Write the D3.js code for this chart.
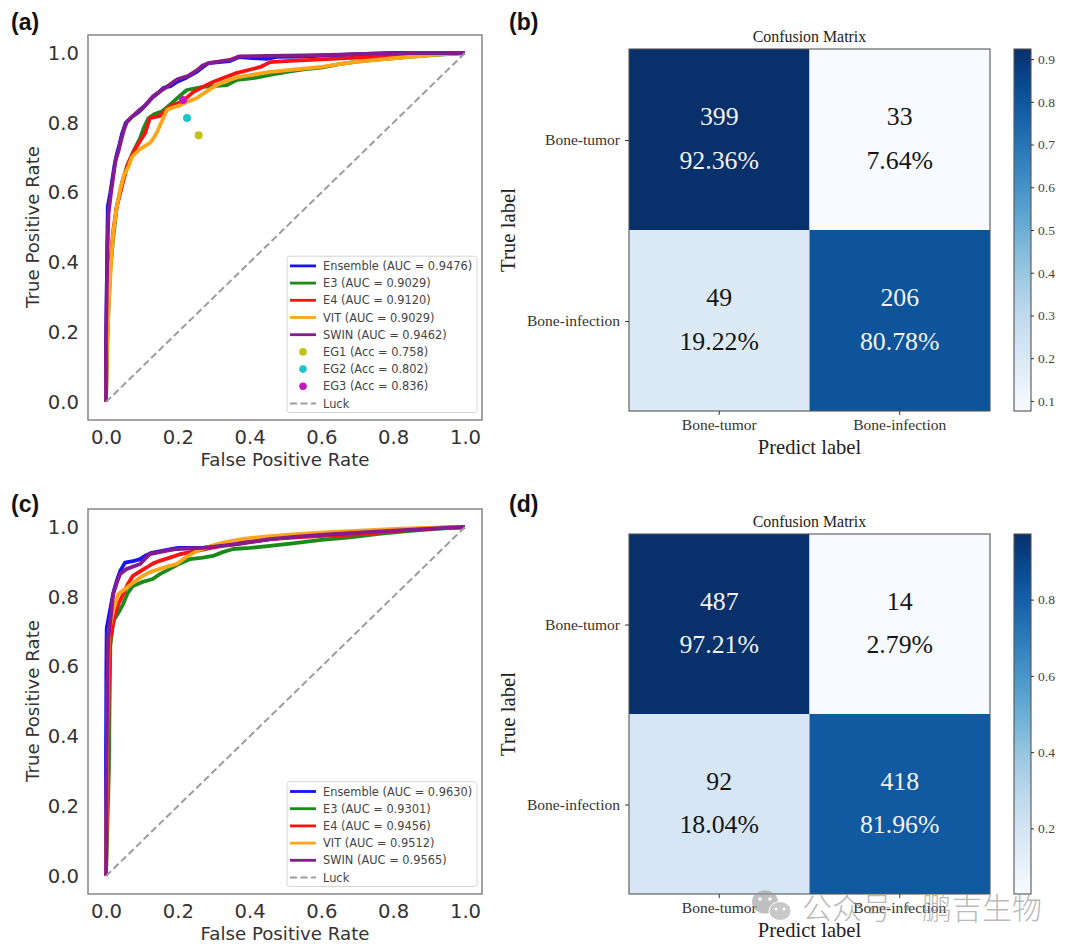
<!DOCTYPE html>
<html>
<head>
<meta charset="utf-8">
<script src="https://cdn.jsdelivr.net/npm/d3@7/dist/d3.min.js"></script>
<style>
html,body{margin:0;padding:0;background:#fff;}
svg{display:block;}
</style>
</head>
<body>
<svg id="fig" width="1080" height="951"></svg>
<script>
// ROC curves, upper panel: [false positive rate, true positive rate]
const rocA_Ensemble = [[0,0],[0,.15],[.002,.3],[.003,.42],[.005,.56],[.012,.6],[.018,.64],[.024,.68],[.03,.71],[.038,.74],[.045,.77],[.055,.8],[.07,.815],[.09,.83],[.105,.845],[.127,.87],[.145,.885],[.16,.9],[.18,.905],[.197,.917],[.225,.93],[.253,.946],[.27,.96],[.285,.971],[.345,.977],[.37,.988],[.448,.983],[.476,.989],[.54,.99],[.62,.993],[.7,.997],[.8,1],[1,1]];
const rocA_E3 = [[0,0],[.002,.12],[.006,.25],[.012,.38],[.02,.47],[.03,.56],[.045,.63],[.058,.674],[.075,.715],[.095,.756],[.105,.785],[.118,.813],[.135,.825],[.155,.832],[.17,.845],[.183,.856],[.2,.872],[.225,.894],[.27,.903],[.3,.905],[.337,.908],[.365,.923],[.41,.928],[.457,.937],[.5,.945],[.55,.953],[.6,.958],[.65,.968],[.7,.975],[.75,.98],[.8,.985],[.85,.99],[.92,.995],[1,1]];
const rocA_E4 = [[0,0],[.002,.14],[.006,.27],[.012,.4],[.02,.49],[.03,.56],[.045,.62],[.06,.68],[.075,.713],[.09,.74],[.109,.77],[.122,.813],[.15,.82],[.165,.835],[.178,.846],[.21,.86],[.225,.872],[.243,.888],[.27,.903],[.298,.917],[.33,.93],[.365,.943],[.4,.952],[.43,.96],[.457,.974],[.5,.977],[.6,.982],[.7,.987],[.8,.99],[.9,.996],[1,1]];
const rocA_VIT = [[0,0],[.003,.16],[.008,.28],[.014,.4],[.02,.484],[.03,.56],[.039,.607],[.05,.65],[.062,.673],[.072,.702],[.095,.725],[.122,.742],[.135,.76],[.145,.78],[.158,.81],[.17,.837],[.19,.845],[.206,.85],[.23,.862],[.253,.871],[.28,.89],[.309,.908],[.335,.92],[.365,.93],[.41,.938],[.457,.946],[.5,.95],[.55,.955],[.6,.96],[.65,.968],[.7,.975],[.75,.98],[.8,.985],[.86,.99],[.93,.996],[1,1]];
const rocA_SWIN = [[0,0],[0,.18],[.002,.32],[.004,.44],[.007,.54],[.014,.6],[.02,.645],[.026,.69],[.035,.72],[.042,.75],[.05,.78],[.058,.802],[.075,.82],[.095,.838],[.11,.85],[.13,.875],[.15,.89],[.165,.9],[.185,.915],[.2,.925],[.23,.935],[.253,.95],[.27,.965],[.29,.972],[.345,.98],[.37,.99],[.45,.992],[.55,.993],[.65,.995],[.75,.998],[.85,1],[1,1]];

// ROC curves, lower panel
const rocC_Ensemble = [[0,0],[0,.35],[.001,.6],[.002,.71],[.011,.76],[.02,.81],[.03,.846],[.04,.875],[.053,.898],[.075,.902],[.095,.908],[.11,.918],[.127,.926],[.16,.932],[.2,.94],[.27,.94],[.33,.95],[.4,.958],[.5,.97],[.6,.978],[.7,.985],[.8,.992],[.9,.997],[1,1]];
const rocC_E3 = [[0,0],[.008,.3],[.01,.5],[.012,.66],[.02,.73],[.035,.755],[.048,.78],[.06,.81],[.075,.831],[.1,.842],[.13,.851],[.15,.865],[.178,.88],[.205,.895],[.234,.908],[.27,.912],[.298,.917],[.325,.928],[.354,.937],[.4,.94],[.457,.946],[.52,.953],[.6,.963],[.68,.97],[.76,.98],[.84,.988],[.92,.995],[1,1]];
const rocC_E4 = [[0,0],[.005,.35],[.008,.55],[.012,.68],[.025,.75],[.035,.78],[.048,.808],[.06,.835],[.075,.86],[.095,.873],[.113,.884],[.13,.895],[.15,.903],[.18,.913],[.206,.922],[.245,.93],[.28,.937],[.32,.945],[.364,.951],[.41,.958],[.457,.965],[.53,.97],[.62,.975],[.72,.98],[.82,.99],[.92,.996],[1,1]];
const rocC_VIT = [[0,0],[.003,.35],[.005,.55],[.008,.7],[.02,.76],[.034,.808],[.058,.826],[.075,.84],[.095,.855],[.12,.87],[.15,.88],[.175,.888],[.197,.894],[.225,.915],[.253,.931],[.29,.945],[.326,.955],[.382,.966],[.457,.974],[.54,.98],[.62,.985],[.72,.99],[.82,.995],[.92,.998],[1,1]];
const rocC_SWIN = [[0,0],[.002,.35],[.004,.55],[.006,.68],[.011,.72],[.016,.77],[.02,.808],[.03,.84],[.039,.865],[.058,.88],[.095,.894],[.11,.91],[.122,.922],[.16,.93],[.197,.937],[.27,.94],[.32,.946],[.364,.951],[.41,.958],[.457,.965],[.54,.973],[.64,.98],[.74,.986],[.84,.992],[.93,.997],[1,1]];

// Single operating points shown only on the upper ROC panel
const operatingPoints = [[.258,.764],[.2256,.814],[.2145,.865]];

const curveNames = ["Ensemble","E3","E4","VIT","SWIN"];
const curveColors = ["#1414f5","#1a8a1a","#fb1212","#ffa519","#861a8e"];
const aucA = ["0.9476","0.9029","0.9120","0.9029","0.9462"];
const aucC = ["0.9630","0.9301","0.9456","0.9512","0.9565"];
const pointNames = ["EG1","EG2","EG3"];
const pointAcc = ["0.758","0.802","0.836"];
const pointColors = ["#c2c214","#1fc4c8","#c418c0"];
const rocTicks = [0,.2,.4,.6,.8,1];

// Confusion matrices
const classes = ["Bone-tumor","Bone-infection"];
const countsB = [[399,33],[49,206]];
const percentB = [[92.36,7.64],[19.22,80.78]];
const countsD = [[487,14],[92,418]];
const percentD = [[97.21,2.79],[18.04,81.96]];
const barTicksB = [.1,.2,.3,.4,.5,.6,.7,.8,.9];
const barTicksD = [.2,.4,.6,.8];

const svg = d3.select("#fig");
const SANS = "'DejaVu Sans', sans-serif";
const SERIF = "'Liberation Serif', serif";
const INK = "#333";

function panelTag(text, x, y) {
  svg.append("text").attr("x", x).attr("y", y)
    .attr("font-family", "'Liberation Sans', sans-serif").attr("font-weight", 700)
    .attr("font-size", 23).attr("fill", "#111").text(text);
}

function rocPanel(o) {
  const g = svg.append("g");
  const x = d3.scaleLinear().domain([0,1]).range([o.left + 18, o.left + 377]);
  const y = d3.scaleLinear().domain([0,1]).range([o.top + 367, o.top + 18]);
  const w = 394, h = 385;

  const fmt = d3.format(".1f");
  const ax = g.append("g").attr("transform", `translate(0,${o.top + h})`)
    .call(d3.axisBottom(x).tickValues(rocTicks).tickFormat(fmt).tickSize(0).tickPadding(10));
  const ay = g.append("g").attr("transform", `translate(${o.left},0)`)
    .call(d3.axisLeft(y).tickValues(rocTicks).tickFormat(fmt).tickSize(0).tickPadding(9));
  [ax, ay].forEach(a => {
    a.select(".domain").remove();
    a.selectAll("text").attr("font-family", SANS).attr("font-size", 19.6).attr("fill", INK);
  });

  g.append("text").attr("x", o.left + 197).attr("y", o.top + h + 46)
    .attr("text-anchor", "middle").attr("font-family", SANS).attr("font-size", 18.2)
    .attr("fill", INK).text("False Positive Rate");
  g.append("text").attr("transform", `translate(${o.left - 49},${o.top + 192}) rotate(-90)`)
    .attr("text-anchor", "middle").attr("font-family", SANS).attr("font-size", 18.2)
    .attr("fill", INK).text("True Positive Rate");

  const line = d3.line().x(d => x(d[0])).y(d => y(d[1])).curve(d3.curveLinear);
  o.curves.forEach((c, i) => {
    g.append("path").datum(c).attr("d", line).attr("fill", "none")
      .attr("stroke", curveColors[i]).attr("stroke-width", 3.8).attr("stroke-linejoin", "round");
  });

  g.append("line").attr("x1", x(0)).attr("y1", y(0)).attr("x2", x(1)).attr("y2", y(1))
    .attr("stroke", "#9c9c9c").attr("stroke-width", 2).attr("stroke-dasharray", "7,3.5");

  (o.points || []).forEach((p, i) => {
    g.append("circle").attr("cx", x(p[0])).attr("cy", y(p[1])).attr("r", 4)
      .attr("fill", pointColors[i]);
  });

  g.append("rect").attr("x", o.left).attr("y", o.top).attr("width", w).attr("height", h)
    .attr("fill", "none").attr("stroke", "#858585").attr("stroke-width", 1.5);

  // Legend
  const rows = [];
  curveNames.forEach((n, i) => rows.push({kind:"line", color:curveColors[i], text:`${n} (AUC = ${o.auc[i]})`}));
  (o.points || []).forEach((p, i) => rows.push({kind:"dot", color:pointColors[i], text:`${pointNames[i]} (Acc = ${pointAcc[i]})`}));
  rows.push({kind:"dash", color:"#9c9c9c", text:"Luck"});

  const rowH = 17.2;
  const lx = o.left + 199;
  const ly = o.top + h - 7.5 - rows.length * rowH - 1.5;
  g.append("rect").attr("x", lx).attr("y", ly).attr("width", 190).attr("height", rows.length * rowH + 1.5)
    .attr("rx", 2.5).attr("fill", "#fff").attr("stroke", "#d6d6d6").attr("stroke-width", 1);
  rows.forEach((r, i) => {
    const cy = ly + 9.7 + i * rowH;
    if (r.kind === "dot") {
      g.append("circle").attr("cx", lx + 16).attr("cy", cy).attr("r", 3.8).attr("fill", r.color);
    } else {
      g.append("line").attr("x1", lx + 3).attr("x2", lx + 29).attr("y1", cy).attr("y2", cy)
        .attr("stroke", r.color).attr("stroke-width", r.kind === "dash" ? 1.8 : 2.8)
        .attr("stroke-dasharray", r.kind === "dash" ? "7,3.5" : null);
    }
    g.append("text").attr("x", lx + 36).attr("y", cy + 4).attr("font-family", SANS)
      .attr("font-size", 11.4).attr("fill", "#444").text(r.text);
  });
}

function matrixPanel(o) {
  const g = svg.append("g");
  const flat = o.percent.flat().map(v => v / 100);
  const lo = d3.min(flat), hi = d3.max(flat);
  const colour = d3.scaleSequential(d3.interpolateBlues).domain([lo, hi]);

  const x = d3.scaleBand().domain(classes).range([629, 990]);
  const y = d3.scaleBand().domain(classes).range([o.top, o.top + o.size]);

  classes.forEach((rowName, r) => classes.forEach((colName, c) => {
    const rate = o.percent[r][c] / 100;
    const cx = x(colName) + x.bandwidth() / 2;
    const cy = y(rowName) + y.bandwidth() / 2;
    g.append("rect").attr("x", x(colName)).attr("y", y(rowName))
      .attr("width", x.bandwidth()).attr("height", y.bandwidth()).attr("fill", colour(rate));
    const ink = rate > (lo + hi) / 2 ? "#f2f2f2" : "#151515";
    g.append("text").attr("x", cx).attr("y", cy - 14.5).attr("text-anchor", "middle")
      .attr("font-family", SERIF).attr("font-size", 25.8).attr("fill", ink).text(o.counts[r][c]);
    g.append("text").attr("x", cx).attr("y", cy + 29).attr("text-anchor", "middle")
      .attr("font-family", SERIF).attr("font-size", 25.8).attr("fill", ink).text(o.percent[r][c].toFixed(2) + "%");
  }));

  g.append("rect").attr("x", 629).attr("y", o.top).attr("width", 361).attr("height", o.size)
    .attr("fill", "none").attr("stroke", "#555").attr("stroke-width", 1.1);

  const ax = g.append("g").attr("transform", `translate(0,${o.top + o.size})`)
    .call(d3.axisBottom(x).tickSize(4).tickPadding(4));
  const ay = g.append("g").attr("transform", "translate(629,0)")
    .call(d3.axisLeft(y).tickSize(4).tickPadding(5));
  [ax, ay].forEach(a => {
    a.select(".domain").remove();
    a.selectAll("line").attr("stroke", "#333");
    a.selectAll("text").attr("font-family", SERIF).attr("font-size", 15.5).attr("fill", "#333");
  });
  ay.selectAll(".tick").attr("transform", d => `translate(0,${y(d) + y.bandwidth() / 2 + 1})`);

  g.append("text").attr("x", 809.5).attr("y", o.top - 7).attr("text-anchor", "middle")
    .attr("font-family", SERIF).attr("font-size", 15.9).attr("fill", "#222").text("Confusion Matrix");
  g.append("text").attr("x", 809.5).attr("y", o.top + o.size + 43).attr("text-anchor", "middle")
    .attr("font-family", SERIF).attr("font-size", 20.6).attr("fill", "#222").text("Predict label");
  g.append("text").attr("transform", `translate(515,${o.top + o.size / 2}) rotate(-90)`)
    .attr("text-anchor", "middle").attr("font-family", SERIF).attr("font-size", 20.8)
    .attr("fill", "#222").text("True label");

  // Colour bar
  const barX = 1014, barW = 17;
  const bar = d3.scaleLinear().domain([lo, hi]).range([o.top + o.size, o.top]);
  const steps = d3.range(0, o.size);
  g.append("g").selectAll("rect").data(steps).join("rect")
    .attr("x", barX).attr("width", barW)
    .attr("y", d => o.top + d).attr("height", 1.5)
    .attr("fill", d => colour(bar.invert(o.top + d + .5)));
  g.append("rect").attr("x", barX).attr("y", o.top).attr("width", barW).attr("height", o.size)
    .attr("fill", "none").attr("stroke", "#555").attr("stroke-width", 1.1);
  const ab = g.append("g").attr("transform", `translate(${barX + barW},0)`)
    .call(d3.axisRight(bar).tickValues(o.barTicks).tickFormat(d3.format(".1f")).tickSize(3).tickPadding(4));
  ab.select(".domain").remove();
  ab.selectAll("line").attr("stroke", "#333");
  ab.selectAll("text").attr("font-family", SERIF).attr("font-size", 13.5).attr("fill", "#444");
}

rocPanel({left:88, top:35, curves:[rocA_Ensemble,rocA_E3,rocA_E4,rocA_VIT,rocA_SWIN], auc:aucA, points:operatingPoints});
rocPanel({left:88, top:509, curves:[rocC_Ensemble,rocC_E3,rocC_E4,rocC_VIT,rocC_SWIN], auc:aucC});
matrixPanel({top:49, size:362, counts:countsB, percent:percentB, barTicks:barTicksB});
matrixPanel({top:534, size:360, counts:countsD, percent:percentD, barTicks:barTicksD});

panelTag("(a)", 11, 30);
panelTag("(b)", 509, 30);
panelTag("(c)", 11, 512);
panelTag("(d)", 509, 512);

// Account mark in the lower right corner
const mark = svg.append("g").attr("opacity", .62);
mark.append("ellipse").attr("cx", 765).attr("cy", 902).attr("rx", 13).attr("ry", 11.5).attr("fill", "#9b9b9b");
mark.append("ellipse").attr("cx", 780).attr("cy", 911).attr("rx", 11).attr("ry", 9.5).attr("fill", "#a8a8a8").attr("stroke", "#fff").attr("stroke-width", 1);
[[760,899,1.8],[770,899,1.8],[776,909,1.5],[784,909,1.5]].forEach(e => {
  mark.append("circle").attr("cx", e[0]).attr("cy", e[1]).attr("r", e[2]).attr("fill", "#fff");
});
svg.append("text").attr("x", 802).attr("y", 919)
  .attr("font-family", "'Noto Sans CJK SC', sans-serif").attr("font-size", 30).attr("font-weight", 300)
  .attr("fill", "#8c8c8c").attr("fill-opacity", .62).text("公众号·鹏吉生物");
</script>
</body>
</html>
